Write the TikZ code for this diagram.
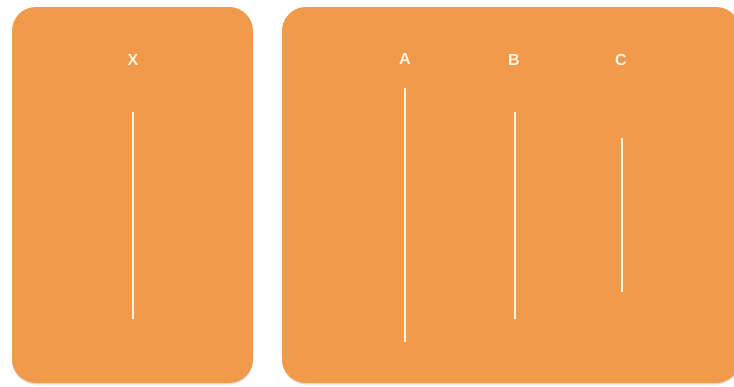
\documentclass[tikz,border=0pt]{standalone}
\usepackage{fontspec}
\setmainfont{Liberation Sans}
\usetikzlibrary{shadows}
\definecolor{panelorange}{HTML}{F29A4C}
\definecolor{linecream}{HTML}{FFF3E2}
\begin{document}
\begin{tikzpicture}[x=1pt,y=-1pt,
  panel/.style={fill=panelorange,rounded corners=24pt,
    drop shadow={shadow xshift=0pt,shadow yshift=-1.5pt,opacity=0.18,fill=black!60}},
  lbl/.style={text=linecream,font=\bfseries\fontsize{16}{18}\selectfont,inner sep=0pt},
  vline/.style={draw=linecream,line width=1.4pt}]
\useasboundingbox (0,0) rectangle (734,386);
\fill[white] (0,0) rectangle (734,386);
\path[panel] (12,7) rectangle (253,383);
\path[panel] (282,7) rectangle (740,383);
% labels
\node[lbl] (x) at (133,60) {X};
\node[lbl] (a) at (405,59) {A};
\node[lbl] (b) at (514,60) {B};
\node[lbl] (c) at (621,60) {C};
% lines
\coordinate (x1) at (133,112); \coordinate (x2) at (133,319);
\coordinate (a1) at (405,88);  \coordinate (a2) at (405,342);
\coordinate (b1) at (515,112); \coordinate (b2) at (515,319);
\coordinate (c1) at (622,138); \coordinate (c2) at (622,292);
\draw[vline] (x1) -- (x2);
\draw[vline] (a1) -- (a2);
\draw[vline] (b1) -- (b2);
\draw[vline] (c1) -- (c2);
\end{tikzpicture}
\end{document}
